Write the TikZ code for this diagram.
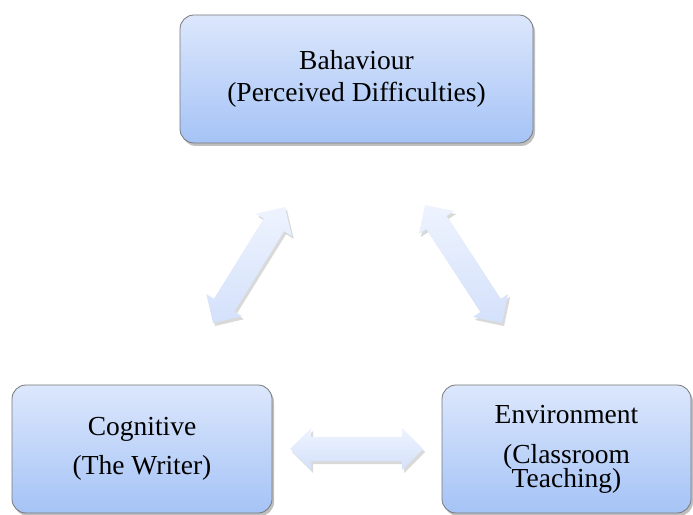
\documentclass[tikz,border=0pt]{standalone}
\usepackage{fontspec}
\setmainfont{Liberation Serif}
\usetikzlibrary{shadows}
\definecolor{boxtop}{RGB}{220,231,252}
\definecolor{boxbot}{RGB}{165,195,246}
\definecolor{arrtop}{RGB}{238,243,254}
\definecolor{arrbot}{RGB}{212,225,251}
\definecolor{boxline}{RGB}{120,120,120}
\tikzset{
  factorbox/.style={draw=boxline, line width=0.8pt, rounded corners=14pt,
    top color=boxtop, bottom color=boxbot, minimum height=128pt,
    align=center, inner sep=0pt,
    font=\fontsize{27.5}{32}\selectfont,
    drop shadow={shadow xshift=2pt, shadow yshift=-3pt, fill=black, opacity=0.25}},
  linkarrow/.style={draw=none, top color=arrtop, bottom color=arrbot,
    drop shadow={shadow xshift=2pt, shadow yshift=-3pt, fill=black, opacity=0.15}}
}
% #1 centre, #2 angle, #3 half length
\newcommand{\linkarr}[3]{%
  \begin{scope}[shift={#1}, rotate=#2]
    \path[linkarrow] ({-#3},0) -- ({-#3+21},21) -- ({-#3+21},12) -- ({#3-21},12)
      -- ({#3-21},21) -- ({#3},0) -- ({#3-21},-21) -- ({#3-21},-12)
      -- ({-#3+21},-12) -- ({-#3+21},-21) -- cycle;
  \end{scope}}
\begin{document}
\begin{tikzpicture}[x=1pt,y=1pt]
\useasboundingbox (0,0) rectangle (693,514);
\node[factorbox, minimum width=353pt] (beh) at (356.5,435) {Bahaviour\\(Perceived Difficulties)};
\node[factorbox, minimum width=260pt] (cog) at (142,65) {Cognitive\\[7pt](The Writer)};
\node[factorbox, minimum width=249pt] (env) at (566.5,65) {Environment\\[8pt](Classroom\\[-8pt]Teaching)};
\linkarr{(249,249)}{58.2}{68.25}
\linkarr{(463.5,250)}{-56.9}{70.5}
\linkarr{(356.5,65)}{0}{66.5}
\end{tikzpicture}
\end{document}
